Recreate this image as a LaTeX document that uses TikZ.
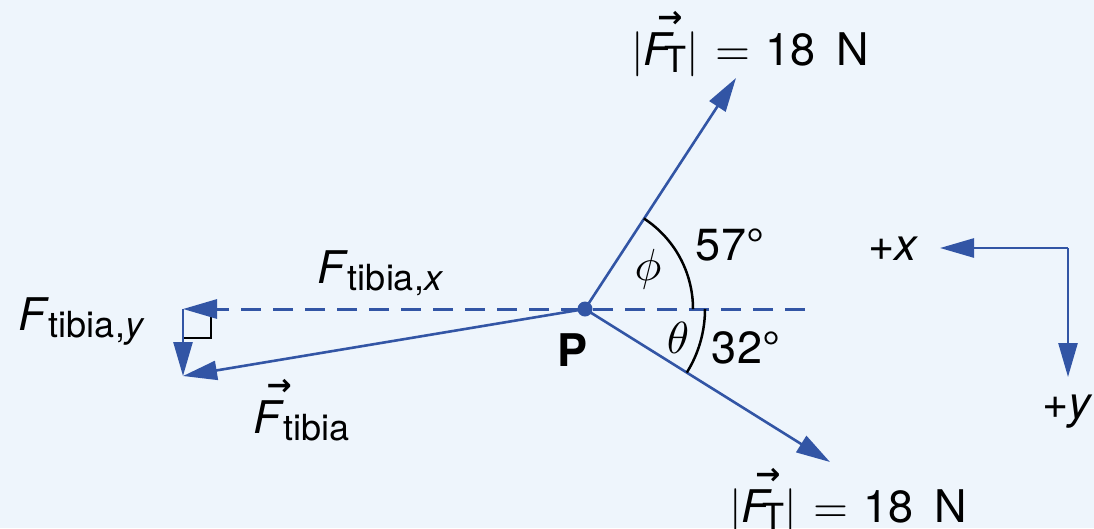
\documentclass[tikz,border=0pt]{standalone}
\usepackage{fontspec}
\setmainfont{TeX Gyre Heros}
\newfontfamily\arrowfont{DejaVu Sans}
\usetikzlibrary{arrows.meta}
\definecolor{bg}{RGB}{238,245,252}
\definecolor{vblue}{RGB}{50,85,165}
\newcommand{\mth}[1]{\scalebox{4.5}{\fontsize{10}{12}\selectfont$#1$}}
\newcommand{\vF}{\makebox[0pt][l]{\hspace{0.3em}\raisebox{0.84em}{\arrowfont\bfseries\fontsize{30}{30}\selectfont →}}\textit{F}}
\newcommand{\sbs}[1]{\raisebox{-0.16em}{\fontsize{36}{36}\selectfont #1}}
\begin{document}
\begin{tikzpicture}[x=1pt,y=-1pt,
  font=\fontsize{45}{50}\selectfont,
  every node/.style={inner sep=0pt},
  vec/.style={draw=vblue, line width=2.6pt, -{Triangle[length=34pt,width=19pt]}},
  blk/.style={draw=black, line width=2.5pt}]
\fill[bg] (0,0) rectangle (1094,528);
\useasboundingbox (0,0) rectangle (1094,528);
\coordinate (P) at (585,309);
\coordinate (T1) at (736,78);
\coordinate (T2) at (830,462);
\coordinate (Ft) at (183,376);
\coordinate (Fx) at (183,309);
\coordinate (D) at (805,309);
\coordinate (O) at (1068,248);
\coordinate (AX) at (940,248);
\coordinate (AY) at (1068,377);
\coordinate (s1) at (211,309);
\coordinate (s2) at (211,338);
\coordinate (s3) at (183,338);
% right angle mark
\draw[blk] (s1) -- (s2) -- (s3);
% components
\draw[vec, line width=3pt, dash pattern=on 20pt off 12pt] (D) -- (Fx);
\draw[vec] (Fx) -- (Ft);
% forces
\draw[vec] (P) -- (Ft);
\draw[vec] (P) -- (T1);
\draw[vec] (P) -- (T2);
\fill[vblue] (P) circle[radius=7.5pt];
% angle arcs
\draw[blk] ([shift={(P)}]-57:108) arc[start angle=-57, end angle=0, radius=108];
\draw[blk] ([shift={(P)}]0:120) arc[start angle=0, end angle=32, radius=120];
% axes
\draw[vec] (O) -- (AX);
\draw[vec] (O) -- (AY);
% labels
\node[anchor=base] (ftop) at (750,65) {\mth{|}\vF\hspace{-0.22em}\sbs{T}\mth{|}\hspace{0.35em}\mth{=}\hspace{0.35em}18\hspace{0.45em}N};
\node[anchor=base] (fbot) at (848,522) {\mth{|}\vF\hspace{-0.22em}\sbs{T}\mth{|}\hspace{0.35em}\mth{=}\hspace{0.35em}18\hspace{0.45em}N};
\node[anchor=base west] (fty) at (18,330) {\textit{F}\sbs{tibia,\textit{y}}};
\node[anchor=base west] (ftx) at (317,283) {\textit{F}\sbs{tibia,\textit{x}}};
\node[anchor=base west] (ftib) at (253,433) {\vF\sbs{tibia}};
\node (phi) at (648,269) {\mth{\phi}};
\node (theta) at (678,338) {\mth{\theta}};
\node (a57) at (730,245) {57°};
\node (a32) at (746,348) {32°};
\node (Pl) at (572,350) {\textbf{P}};
\node[anchor=base west] (px) at (868,260) {+\textit{x}};
\node[anchor=base west] (py) at (1042,418) {+\textit{y}};
\end{tikzpicture}
\end{document}
